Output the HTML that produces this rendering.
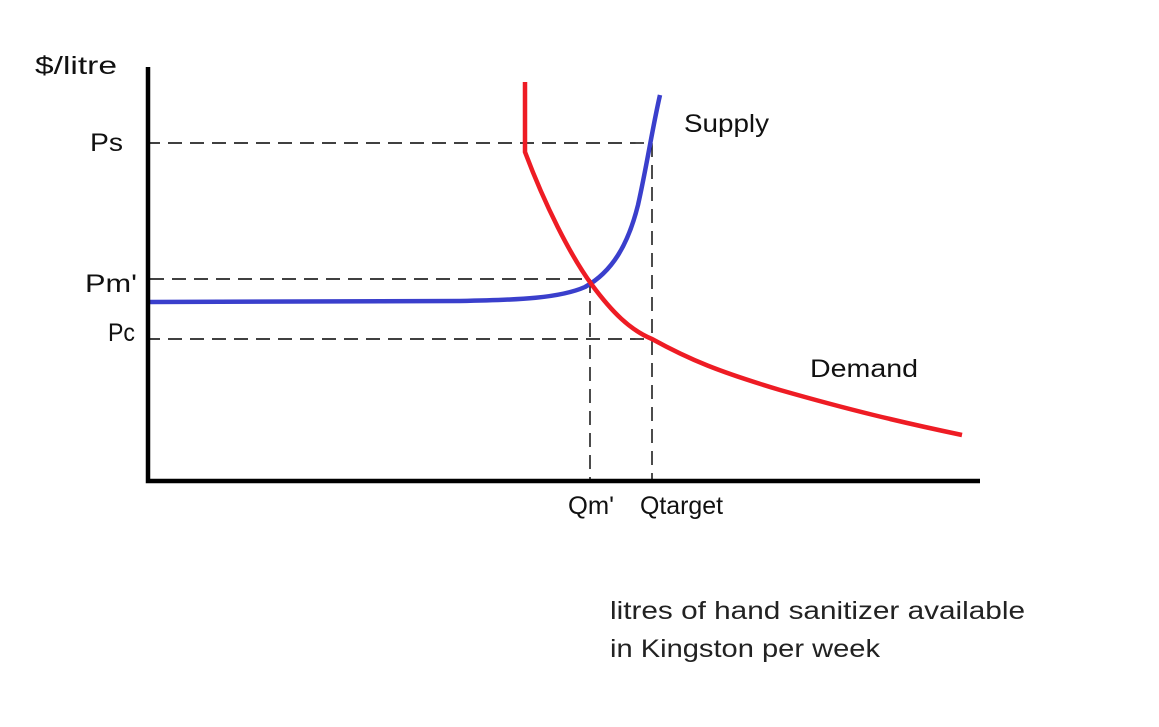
<!DOCTYPE html>
<html><head><meta charset="utf-8"><style>html,body{margin:0;padding:0;background:#fff}svg{display:block}</style></head>
<body>
<svg width="1159" height="727" viewBox="0 0 1159 727" xmlns="http://www.w3.org/2000/svg" font-family="Liberation Sans, sans-serif">
<rect width="1159" height="727" fill="#fff"/>
<g stroke="#000" stroke-width="1.4" stroke-dasharray="14,8" fill="none">
<line x1="146" y1="143" x2="652" y2="143"/>
<line x1="150" y1="279" x2="590" y2="279"/>
<line x1="146" y1="339" x2="652" y2="339"/>
<line x1="590" y1="279" x2="590" y2="481"/>
<line x1="652" y1="143" x2="652" y2="481"/>
</g>
<path d="M150 302 L460 301 C520 300 560 298 585 287 C612 272 628 245 638 205 C647 165 652 130 660 95" stroke="#3a3fcc" stroke-width="4.5" fill="none"/>
<path d="M525 82 L525 152 C545 205 570 255 592 285 C612 312 630 330 652 339 C690 360 720 372 780 390 C850 410 900 422 962 435" stroke="#ee1c24" stroke-width="4.5" fill="none"/>
<path d="M148 67 L148 481 L980 481" stroke="#000" stroke-width="4.5" fill="none"/>
<g font-size="25" fill="#111">
<text x="35" y="74" textLength="82" lengthAdjust="spacingAndGlyphs">$/litre</text>
<text x="90" y="151" textLength="33" lengthAdjust="spacingAndGlyphs">Ps</text>
<text x="85" y="292" textLength="52" lengthAdjust="spacingAndGlyphs">Pm'</text>
<text x="108" y="341" textLength="27" lengthAdjust="spacingAndGlyphs">Pc</text>
<text x="684" y="132" textLength="85" lengthAdjust="spacingAndGlyphs">Supply</text>
<text x="810" y="377" textLength="108" lengthAdjust="spacingAndGlyphs">Demand</text>
<text x="568" y="514" textLength="46" lengthAdjust="spacingAndGlyphs">Qm'</text>
<text x="640" y="514" textLength="83" lengthAdjust="spacingAndGlyphs">Qtarget</text>
<text x="610" y="619" textLength="415" lengthAdjust="spacingAndGlyphs" fill="#222">litres of hand sanitizer available</text>
<text x="610" y="657" textLength="270" lengthAdjust="spacingAndGlyphs" fill="#222">in Kingston per week</text>
</g>
</svg>
</body></html>
